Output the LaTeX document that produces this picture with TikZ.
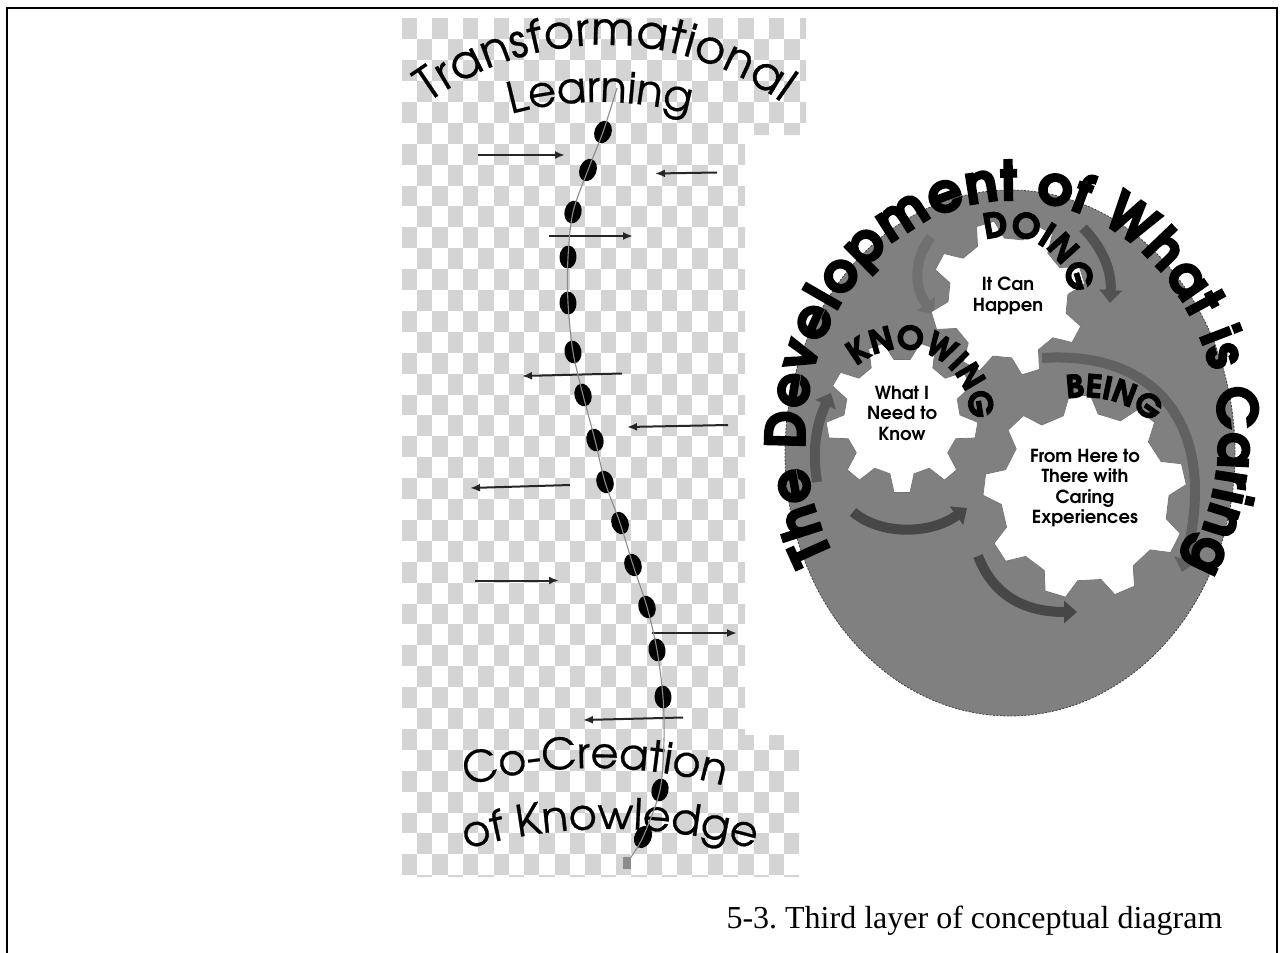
\documentclass[tikz,border=0pt]{standalone}
\usepackage{fontspec}
\setmainfont{Liberation Serif}
\newfontfamily\gothic{TeX Gyre Adventor}[FakeBold=0.6]
\newfontfamily\plaingothic{TeX Gyre Adventor}
\newfontfamily\heavy{TeX Gyre Adventor}[BoldFeatures={FakeBold=4}]
\usetikzlibrary{arrows.meta,decorations.text}

\definecolor{checkgray}{RGB}{212,212,212}
\definecolor{platter}{RGB}{128,128,128}

\newcommand{\cogwheel}[6]{%
  \pgfmathsetmacro{\pitch}{360/#3}
  \draw[cog,shift={(#1,#2)}] ({#6-0.3*\pitch}:#4)
    \foreach \k in {1,...,#3}{
      -- ({#6+(\k-1)*\pitch-0.3*\pitch}:#4) -- ({#6+(\k-1)*\pitch-0.15*\pitch}:#5)
      -- ({#6+(\k-1)*\pitch+0.15*\pitch}:#5) -- ({#6+(\k-1)*\pitch+0.3*\pitch}:#4)
    } -- cycle;
}

\begin{document}
\begin{tikzpicture}[x=1pt,y=-1pt]
\tikzstyle{pointer}=[line width=2pt,draw=black!85,-{Latex[length=10pt,width=8pt]}]
\tikzstyle{cog}=[fill=white,draw=black!55,line width=0.7pt]
\tikzstyle{swoosh}=[line width=10pt,-{Triangle[length=13pt,width=22pt]}]
\tikzstyle{thread}=[draw=black!45,line width=1.1pt]
\useasboundingbox (0,0) rectangle (1285,953);
\draw[line width=1.6pt] (7,953) -- (7,8) -- (1277,8) -- (1277,953);

\begin{scope}
\clip (401,18) -- (806,18) -- (806,135) -- (745,135) -- (745,735) -- (799,735) -- (799,877) -- (401,877) -- cycle;
\fill[white] (401,18) rectangle (806,877);
\foreach \i in {0,...,26}{
  \pgfmathtruncatemacro{\off}{mod(\i,2)}
  \foreach \j in {0,...,20}
    \fill[checkgray] ({401.7+15.3*\i},{18.3+20.9*(2*\j+\off)}) rectangle +(15.3,20.9);
}
\end{scope}

\path[decorate,decoration={text along path,text align=fit to path,
  text={|\gothic\fontsize{46}{46}\selectfont|Transformational}}]
  (605,345) ++(234:300) arc[start angle=234,end angle=306,radius=300];
\path[decorate,decoration={text along path,text align=center,
  text={|\gothic\fontsize{43}{43}\selectfont|Learning}}]
  (600,437) ++(250:335) arc[start angle=250,end angle=290,radius=335];
\path[decorate,decoration={text along path,text align=center,
  text={|\gothic\fontsize{43}{43}\selectfont|Co-Creation}}]
  (595,1244) ++(250:476) arc[start angle=250,end angle=290,radius=476];
\path[decorate,decoration={text along path,text align=center,
  text={|\gothic\fontsize{43}{43}\selectfont|of Knowledge}}]
  (610,1357) ++(250:528) arc[start angle=250,end angle=290,radius=528];

\draw[pointer] (478,155) -- (565,155);
\draw[pointer] (717,172.5) -- (655,173.5);
\draw[pointer] (549,236) -- (633,236);
\draw[pointer] (622,373.5) -- (522,376);
\draw[pointer] (728,425) -- (627,427);
\draw[pointer] (570,485) -- (470,488);
\draw[pointer] (475,580.5) -- (559,580.5);
\draw[pointer] (652,633) -- (737,633);
\draw[pointer] (683,717.5) -- (583,720);

\foreach \bx/\by/\rot in {603/132/-19.5, 588/170/-20.6, 573/212/-13, 568/257/-3,
  568/303/3, 573/352/9, 583/395/14, 595/440/14, 605/482/17, 620/523/19, 633/565/18,
  647/607/16, 657/650/10, 663/697/4, 660/790/-12, 643/837/-24}
  \fill[black,rotate around={\rot:(\bx,\by)}] (\bx,\by) ellipse[x radius=8.5,y radius=11.5];
\draw[thread] plot[smooth] coordinates {(617,88) (603,132) (588,170) (573,212) (568,257)
  (568,303) (573,352) (583,395) (595,440) (605,482) (620,523) (633,565) (647,607)
  (657,650) (663,697) (664,740) (660,790) (643,837) (627,863)};
\fill[black!45] (623,857) rectangle (631,869);

\draw[fill=platter,draw=black!75,line width=0.8pt,dash pattern=on 2pt off 1.5pt]
  (1010,453) ellipse[x radius=225,y radius=263];

\draw[swoosh,draw=black!56] (931,237) .. controls (914,258) and (913,287) .. (934,314);
\draw[swoosh,draw=black!68] (1083,228) .. controls (1100,245) and (1112,268) .. (1110,303);
\draw[swoosh,draw=black!62] (1042,358) .. controls (1160,350) and (1220,430) .. (1182,572);
\draw[swoosh,draw=black!66] (817,482) .. controls (812,450) and (816,425) .. (831,393);
\draw[swoosh,draw=black!72] (853,512) .. controls (880,535) and (930,535) .. (967,508);
\draw[swoosh,draw=black!72] (978,556) .. controls (995,600) and (1030,612) .. (1077,612);

\cogwheel{1008}{298}{8}{60}{78}{28}
\cogwheel{902}{417}{9}{58}{76}{90}
\cogwheel{1085}{497}{9}{84}{102}{67}

\node[align=center,font=\plaingothic\bfseries\fontsize{18}{20.5}\selectfont] (happen) at (1008,296) {It Can\\Happen};
\node[align=center,font=\plaingothic\bfseries\fontsize{18}{20.5}\selectfont] (needknow) at (902,413) {What I\\Need to\\Know};
\node[align=center,font=\plaingothic\bfseries\fontsize{18}{20.5}\selectfont] (hereto) at (1085,488) {From Here to\\There with\\Caring\\Experiences};

\path[decorate,decoration={text along path,text align=center,
  text={|\heavy\bfseries\fontsize{34}{34}\selectfont|DOING}}]
  (1008,298) ++(230:62) arc[start angle=230,end angle=375,radius=62];
\path[decorate,decoration={text along path,text align=center,
  text={|\heavy\bfseries\fontsize{32}{32}\selectfont|KNOWING}}]
  (902,417) ++(200:68) arc[start angle=200,end angle=390,radius=68];
\path[decorate,decoration={text along path,text align=center,
  text={|\heavy\bfseries\fontsize{31}{31}\selectfont|BEING}}]
  (1085,497) ++(236:100) arc[start angle=236,end angle=336,radius=100];

\path[decorate,decoration={text along path,text align=fit to path,
  text={|\heavy\bfseries\fontsize{54}{54}\selectfont|The Development of What is Caring}}]
  (1012,436) ++(150:207 and 236) arc[start angle=150,end angle=393,x radius=207,y radius=236];

\node[anchor=base west,font=\fontsize{32}{32}\selectfont] (caption) at (723,928) {5-3.\ Third layer of conceptual diagram};
\end{tikzpicture}
\end{document}
